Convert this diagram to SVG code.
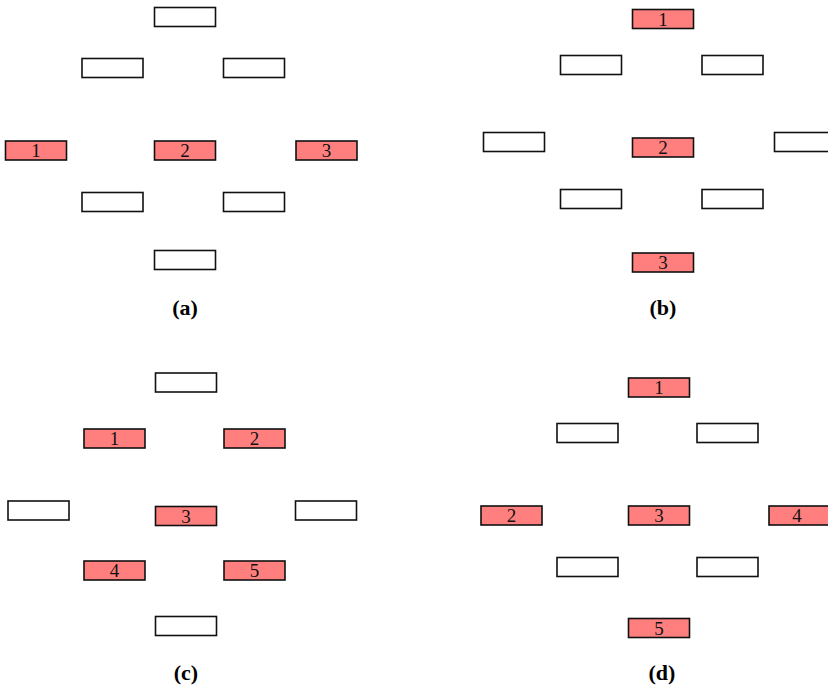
<svg xmlns="http://www.w3.org/2000/svg" width="828" height="691" viewBox="0 0 828 691">
  <style>
    .cell { fill: #ffffff; stroke: #111111; stroke-width: 1.6; }
    .hit { fill: #ff7f7f; stroke: #111111; stroke-width: 1.6; }
    .num { font-family: 'Liberation Serif', serif; font-size: 19px; fill: #111111; text-anchor: middle; }
    .cap { font-family: 'Liberation Serif', serif; font-size: 22px; font-weight: bold; fill: #000000; text-anchor: middle; }
  </style>
  <rect width="828" height="691" fill="#ffffff"/>
  <g id="connectors"/>

  <!-- panel (a) -->
  <g id="panel-a">
    <g id="a-top"><rect class="cell" x="154.5" y="7.5" width="61" height="19"/></g>
    <g id="a-ul"><rect class="cell" x="82" y="58.5" width="61" height="19"/></g>
    <g id="a-ur"><rect class="cell" x="223.5" y="58.5" width="61" height="19"/></g>
    <g id="a-1"><rect class="hit" x="5.5" y="141" width="61" height="19"/><text class="num" x="36" y="157">1</text></g>
    <g id="a-2"><rect class="hit" x="154.5" y="141" width="61" height="19"/><text class="num" x="185" y="157">2</text></g>
    <g id="a-3"><rect class="hit" x="296" y="141" width="61" height="19"/><text class="num" x="326.5" y="157">3</text></g>
    <g id="a-ll"><rect class="cell" x="82" y="192.5" width="61" height="19"/></g>
    <g id="a-lr"><rect class="cell" x="223.5" y="192.5" width="61" height="19"/></g>
    <g id="a-bottom"><rect class="cell" x="154.5" y="250.5" width="61" height="19"/></g>
    <text class="cap" x="185" y="315">(a)</text>
  </g>

  <!-- panel (b) -->
  <g id="panel-b">
    <g id="b-1"><rect class="hit" x="632.5" y="9.5" width="61" height="19"/><text class="num" x="663" y="25.5">1</text></g>
    <g id="b-ul"><rect class="cell" x="560.5" y="55.5" width="61" height="19"/></g>
    <g id="b-ur"><rect class="cell" x="702" y="55.5" width="61" height="19"/></g>
    <g id="b-left"><rect class="cell" x="483.5" y="132.5" width="61" height="19"/></g>
    <g id="b-2"><rect class="hit" x="632.5" y="138" width="61" height="19"/><text class="num" x="663" y="154">2</text></g>
    <g id="b-right"><rect class="cell" x="774.5" y="132.5" width="61" height="19"/></g>
    <g id="b-ll"><rect class="cell" x="560.5" y="189.5" width="61" height="19"/></g>
    <g id="b-lr"><rect class="cell" x="702" y="189.5" width="61" height="19"/></g>
    <g id="b-3"><rect class="hit" x="632.5" y="253" width="61" height="19"/><text class="num" x="663" y="269">3</text></g>
    <text class="cap" x="663" y="315">(b)</text>
  </g>

  <!-- panel (c) -->
  <g id="panel-c">
    <g id="c-top"><rect class="cell" x="155.5" y="373" width="61" height="19"/></g>
    <g id="c-1"><rect class="hit" x="84" y="429" width="61" height="19"/><text class="num" x="114.5" y="445">1</text></g>
    <g id="c-2"><rect class="hit" x="224" y="429" width="61" height="19"/><text class="num" x="254.5" y="445">2</text></g>
    <g id="c-left"><rect class="cell" x="8" y="501" width="61" height="19"/></g>
    <g id="c-3"><rect class="hit" x="155.5" y="506.5" width="61" height="19"/><text class="num" x="186" y="522.5">3</text></g>
    <g id="c-right"><rect class="cell" x="295.5" y="501" width="61" height="19"/></g>
    <g id="c-4"><rect class="hit" x="84" y="561" width="61" height="19"/><text class="num" x="114.5" y="577">4</text></g>
    <g id="c-5"><rect class="hit" x="224" y="561" width="61" height="19"/><text class="num" x="254.5" y="577">5</text></g>
    <g id="c-bottom"><rect class="cell" x="155.5" y="616.5" width="61" height="19"/></g>
    <text class="cap" x="186" y="680">(c)</text>
  </g>

  <!-- panel (d) -->
  <g id="panel-d">
    <g id="d-1"><rect class="hit" x="628.5" y="378" width="61" height="19"/><text class="num" x="659" y="394">1</text></g>
    <g id="d-ul"><rect class="cell" x="557" y="423.5" width="61" height="19"/></g>
    <g id="d-ur"><rect class="cell" x="697" y="423.5" width="61" height="19"/></g>
    <g id="d-2"><rect class="hit" x="481" y="506" width="61" height="19"/><text class="num" x="511.5" y="522">2</text></g>
    <g id="d-3"><rect class="hit" x="628.5" y="506" width="61" height="19"/><text class="num" x="659" y="522">3</text></g>
    <g id="d-4"><rect class="hit" x="769" y="506" width="61" height="19"/><text class="num" x="797" y="522">4</text></g>
    <g id="d-ll"><rect class="cell" x="557" y="557.5" width="61" height="19"/></g>
    <g id="d-lr"><rect class="cell" x="697" y="557.5" width="61" height="19"/></g>
    <g id="d-5"><rect class="hit" x="628.5" y="618.5" width="61" height="19"/><text class="num" x="659" y="634.5">5</text></g>
    <text class="cap" x="662" y="680">(d)</text>
  </g>
</svg>
